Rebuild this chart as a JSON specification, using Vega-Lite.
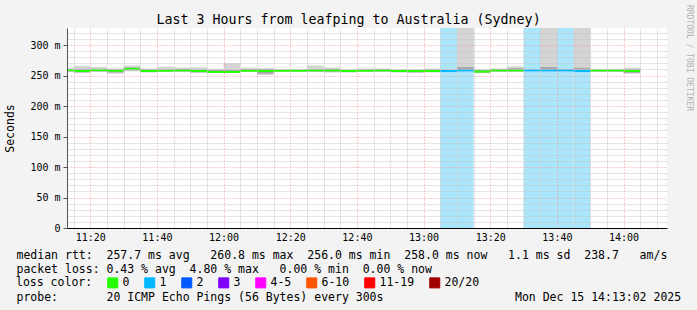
{
  "$schema": "https://vega.github.io/schema/vega-lite/v6.json",
  "autosize": {"type": "none"},
  "width": 600,
  "height": 200,
  "padding": {"left": 67, "top": 28, "right": 30, "bottom": 82},
  "background": "#f3f3f3",
  "view": {"fill": "#ffffff", "stroke": null},
  "title": {
    "text": "Last 3 Hours from leafping to Australia (Sydney)",
    "font": "DejaVu Sans Mono", "fontSize": 13.3, "fontWeight": "normal", "color": "#000000",
    "anchor": "middle", "frame": "group", "dx": -18.5, "baseline": "alphabetic", "offset": -32.5
  },
  "data": {
    "values": [
      {"t": "2025-12-15T11:10:00Z", "t2": "2025-12-15T11:15:00Z", "lo": 256, "lo2": 257, "med": 259, "hi2": 261, "hi": 262, "loss": "0"},
      {"t": "2025-12-15T11:15:00Z", "t2": "2025-12-15T11:20:00Z", "lo": 254, "lo2": 255.5, "med": 257.5, "hi2": 261, "hi": 266, "loss": "0"},
      {"t": "2025-12-15T11:20:00Z", "t2": "2025-12-15T11:25:00Z", "lo": 256, "lo2": 257, "med": 259, "hi2": 261, "hi": 264, "loss": "0"},
      {"t": "2025-12-15T11:25:00Z", "t2": "2025-12-15T11:30:00Z", "lo": 253, "lo2": 255, "med": 258, "hi2": 260, "hi": 261.5, "loss": "0"},
      {"t": "2025-12-15T11:30:00Z", "t2": "2025-12-15T11:35:00Z", "lo": 257, "lo2": 258.5, "med": 261, "hi2": 263, "hi": 266.5, "loss": "0"},
      {"t": "2025-12-15T11:35:00Z", "t2": "2025-12-15T11:40:00Z", "lo": 255, "lo2": 256, "med": 257.5, "hi2": 260.5, "hi": 261.5, "loss": "0"},
      {"t": "2025-12-15T11:40:00Z", "t2": "2025-12-15T11:45:00Z", "lo": 256, "lo2": 257, "med": 258, "hi2": 260, "hi": 264.5, "loss": "0"},
      {"t": "2025-12-15T11:45:00Z", "t2": "2025-12-15T11:50:00Z", "lo": 256, "lo2": 257, "med": 258.5, "hi2": 261, "hi": 263, "loss": "0"},
      {"t": "2025-12-15T11:50:00Z", "t2": "2025-12-15T11:55:00Z", "lo": 254, "lo2": 255.5, "med": 257.5, "hi2": 260, "hi": 263.5, "loss": "0"},
      {"t": "2025-12-15T11:55:00Z", "t2": "2025-12-15T12:00:00Z", "lo": 254, "lo2": 255, "med": 256, "hi2": 259, "hi": 261, "loss": "0"},
      {"t": "2025-12-15T12:00:00Z", "t2": "2025-12-15T12:05:00Z", "lo": 254, "lo2": 255, "med": 256, "hi2": 259, "hi": 270, "loss": "0"},
      {"t": "2025-12-15T12:05:00Z", "t2": "2025-12-15T12:10:00Z", "lo": 256, "lo2": 257, "med": 258, "hi2": 260.5, "hi": 262.5, "loss": "0"},
      {"t": "2025-12-15T12:10:00Z", "t2": "2025-12-15T12:15:00Z", "lo": 251, "lo2": 253, "med": 257.5, "hi2": 261, "hi": 262, "loss": "0"},
      {"t": "2025-12-15T12:15:00Z", "t2": "2025-12-15T12:20:00Z", "lo": 256, "lo2": 257, "med": 258, "hi2": 259.5, "hi": 260, "loss": "0"},
      {"t": "2025-12-15T12:20:00Z", "t2": "2025-12-15T12:25:00Z", "lo": 256, "lo2": 257, "med": 258, "hi2": 259.5, "hi": 260, "loss": "0"},
      {"t": "2025-12-15T12:25:00Z", "t2": "2025-12-15T12:30:00Z", "lo": 256, "lo2": 257, "med": 258.5, "hi2": 260.5, "hi": 266.5, "loss": "0"},
      {"t": "2025-12-15T12:30:00Z", "t2": "2025-12-15T12:35:00Z", "lo": 255, "lo2": 256.5, "med": 258.5, "hi2": 261, "hi": 263, "loss": "0"},
      {"t": "2025-12-15T12:35:00Z", "t2": "2025-12-15T12:40:00Z", "lo": 255, "lo2": 256, "med": 257.5, "hi2": 259.5, "hi": 260, "loss": "0"},
      {"t": "2025-12-15T12:40:00Z", "t2": "2025-12-15T12:45:00Z", "lo": 256, "lo2": 257, "med": 258, "hi2": 260, "hi": 261.5, "loss": "0"},
      {"t": "2025-12-15T12:45:00Z", "t2": "2025-12-15T12:50:00Z", "lo": 256, "lo2": 257, "med": 258.5, "hi2": 260.5, "hi": 261.5, "loss": "0"},
      {"t": "2025-12-15T12:50:00Z", "t2": "2025-12-15T12:55:00Z", "lo": 255, "lo2": 256, "med": 257.5, "hi2": 259.5, "hi": 260, "loss": "0"},
      {"t": "2025-12-15T12:55:00Z", "t2": "2025-12-15T13:00:00Z", "lo": 254, "lo2": 255.5, "med": 257.5, "hi2": 259.5, "hi": 260, "loss": "0"},
      {"t": "2025-12-15T13:00:00Z", "t2": "2025-12-15T13:05:00Z", "lo": 255, "lo2": 256, "med": 257.5, "hi2": 260, "hi": 261.5, "loss": "0"},
      {"t": "2025-12-15T13:05:00Z", "t2": "2025-12-15T13:10:00Z", "lo": 256, "lo2": 257, "med": 257.5, "hi2": 259.5, "hi": 261, "loss": "1"},
      {"t": "2025-12-15T13:10:00Z", "t2": "2025-12-15T13:15:00Z", "lo": 257, "lo2": 258, "med": 258.5, "hi2": 264, "hi": 340, "loss": "1"},
      {"t": "2025-12-15T13:15:00Z", "t2": "2025-12-15T13:20:00Z", "lo": 254, "lo2": 255, "med": 256.5, "hi2": 259, "hi": 260, "loss": "0"},
      {"t": "2025-12-15T13:20:00Z", "t2": "2025-12-15T13:25:00Z", "lo": 256, "lo2": 257, "med": 258.5, "hi2": 260.5, "hi": 261.5, "loss": "0"},
      {"t": "2025-12-15T13:25:00Z", "t2": "2025-12-15T13:30:00Z", "lo": 256, "lo2": 257, "med": 258.5, "hi2": 262, "hi": 265, "loss": "0"},
      {"t": "2025-12-15T13:30:00Z", "t2": "2025-12-15T13:35:00Z", "lo": 257, "lo2": 257.5, "med": 258.5, "hi2": 260, "hi": 261, "loss": "1"},
      {"t": "2025-12-15T13:35:00Z", "t2": "2025-12-15T13:40:00Z", "lo": 257, "lo2": 258, "med": 258.5, "hi2": 264, "hi": 340, "loss": "1"},
      {"t": "2025-12-15T13:40:00Z", "t2": "2025-12-15T13:45:00Z", "lo": 257, "lo2": 258, "med": 258.5, "hi2": 260.5, "hi": 261.5, "loss": "1"},
      {"t": "2025-12-15T13:45:00Z", "t2": "2025-12-15T13:50:00Z", "lo": 256, "lo2": 257, "med": 257.5, "hi2": 263, "hi": 340, "loss": "1"},
      {"t": "2025-12-15T13:50:00Z", "t2": "2025-12-15T13:55:00Z", "lo": 256, "lo2": 257, "med": 258.5, "hi2": 259.5, "hi": 260, "loss": "0"},
      {"t": "2025-12-15T13:55:00Z", "t2": "2025-12-15T14:00:00Z", "lo": 256, "lo2": 257, "med": 258.5, "hi2": 259.5, "hi": 260, "loss": "0"},
      {"t": "2025-12-15T14:00:00Z", "t2": "2025-12-15T14:05:00Z", "lo": 253, "lo2": 254.5, "med": 257.5, "hi2": 260.5, "hi": 263, "loss": "0"}
    ]
  },
  "layer": [
    {
      "transform": [{"filter": "datum.loss == '1'"}],
      "mark": {"type": "rect", "color": "#a9e5fb"},
      "encoding": {
        "x": {"field": "t", "type": "temporal", "axis": null,
              "scale": {"type": "utc", "domain": [1765797182000, 1765807982000], "nice": false}},
        "x2": {"field": "t2"}
      }
    },
    {
      "mark": {"type": "rect", "color": "#d4d4d4", "clip": true},
      "encoding": {
        "x": {"field": "t", "type": "temporal",
              "scale": {"type": "utc", "domain": [1765797182000, 1765807982000], "nice": false},
              "axis": {
                "orient": "bottom", "zindex": 1, "format": "%H:%M",
                "values": [1765797600000, 1765798800000, 1765800000000, 1765801200000, 1765802400000, 1765803600000, 1765804800000, 1765806000000, 1765807200000],
                "grid": true, "gridColor": "#f29c9c", "gridDash": [1, 2], "gridWidth": 1,
                "ticks": false, "labelPadding": 4, "labelFont": "DejaVu Sans Mono", "labelFontSize": 10, "labelColor": "#000000",
                "labelOverlap": false, "labelFlush": false,
                "domain": true, "domainColor": "#000000", "domainWidth": 1,
                "title": [
                  "median rtt:\u00a0\u00a0257.7 ms avg\u00a0\u00a0\u00a0260.8 ms max\u00a0\u00a0256.0 ms min\u00a0\u00a0258.0 ms now\u00a0\u00a0\u00a01.1 ms sd\u00a0\u00a0238.7\u00a0\u00a0\u00a0am/s",
                  "packet loss: 0.43 % avg\u00a0\u00a04.80 % max\u00a0\u00a0\u00a00.00 % min\u00a0\u00a00.00 % now"
                ],
                "titleFont": "DejaVu Sans Mono", "titleFontSize": 11.5, "titleFontWeight": "normal", "titleColor": "#000000",
                "titleAlign": "left", "titleBaseline": "top", "titleX": -51, "titleY": 21.5, "titleLineHeight": 13.8, "titleLimit": 2000
              }},
        "x2": {"field": "t2"},
        "y": {"field": "lo", "type": "quantitative",
              "scale": {"domain": [0, 328], "nice": false, "zero": true},
              "axis": {
                "orient": "left", "zindex": 1,
                "values": [0, 50, 100, 150, 200, 250, 300],
                "labelExpr": "datum.value == 0 ? '0' : datum.value + ' m'",
                "grid": true, "gridColor": "#f29c9c", "gridDash": [1, 2], "gridWidth": 1,
                "ticks": true, "tickSize": 4, "tickColor": "#555555",
                "domain": true, "domainColor": "#555555",
                "labelPadding": 3, "labelFont": "DejaVu Sans Mono", "labelFontSize": 10, "labelColor": "#000000",
                "title": "Seconds", "titleFont": "DejaVu Sans Mono", "titleFontSize": 11.5, "titleFontWeight": "normal", "titleColor": "#000000",
                "titleAngle": -90, "titleX": -56.5, "titleY": 100, "titleAlign": "center", "titleBaseline": "middle"
              }},
        "y2": {"field": "hi"}
      }
    },
    {
      "mark": {"type": "rect", "color": "#a8a8a8", "clip": true},
      "encoding": {
        "x": {"field": "t", "type": "temporal",
              "scale": {"type": "utc", "domain": [1765797182000, 1765807982000], "nice": false},
              "axis": {
                "orient": "top", "zindex": 1,
                "values": [1765797300000, 1765797900000, 1765798200000, 1765798500000, 1765799100000, 1765799400000, 1765799700000, 1765800300000, 1765800600000, 1765800900000, 1765801500000, 1765801800000, 1765802100000, 1765802700000, 1765803000000, 1765803300000, 1765803900000, 1765804200000, 1765804500000, 1765805100000, 1765805400000, 1765805700000, 1765806300000, 1765806600000, 1765806900000, 1765807500000, 1765807800000],
                "grid": true, "gridColor": "#c8c8c8", "gridDash": [1, 1], "gridWidth": 1,
                "labels": false, "ticks": false, "domain": false,
                "title": "probe:\u00a0\u00a0\u00a0\u00a0\u00a0\u00a0\u00a020 ICMP Echo Pings (56 Bytes) every 300s\u00a0\u00a0\u00a0\u00a0\u00a0\u00a0\u00a0\u00a0\u00a0\u00a0\u00a0\u00a0\u00a0\u00a0\u00a0\u00a0\u00a0\u00a0\u00a0Mon Dec 15 14:13:02 2025",
                "titleFont": "DejaVu Sans Mono", "titleFontSize": 11.5, "titleFontWeight": "normal", "titleColor": "#000000",
                "titleAlign": "left", "titleBaseline": "top", "titleX": -51, "titleY": 263.1, "titleLimit": 2000
              }},
        "x2": {"field": "t2"},
        "y": {"field": "lo2", "type": "quantitative",
              "scale": {"domain": [0, 328], "nice": false, "zero": true},
              "axis": {
                "orient": "right", "zindex": 1,
                "values": [10, 20, 30, 40, 60, 70, 80, 90, 110, 120, 130, 140, 160, 170, 180, 190, 210, 220, 230, 240, 260, 270, 280, 290, 310, 320],
                "grid": true, "gridColor": "#c8c8c8", "gridDash": [1, 1], "gridWidth": 1,
                "labels": false, "ticks": false, "domain": false,
                "title": "RRDTOOL / TOBI OETIKER", "titleFont": "DejaVu Sans Mono", "titleFontSize": 8, "titleFontWeight": "normal", "titleColor": "#b0b0b0",
                "titleAngle": 90, "titleX": 21.5, "titleY": 29.5, "titleAlign": "center", "titleBaseline": "middle"
              }},
        "y2": {"field": "hi2"}
      }
    },
    {
      "mark": {"type": "rule", "strokeWidth": 2, "clip": true},
      "encoding": {
        "x": {"field": "t", "type": "temporal", "axis": null,
              "scale": {"type": "utc", "domain": [1765797182000, 1765807982000], "nice": false}},
        "x2": {"field": "t2"},
        "y": {"field": "med", "type": "quantitative", "axis": null},
        "color": {
          "field": "loss", "type": "nominal",
          "scale": {
            "domain": ["0", "1", "2", "3", "4-5", "6-10", "11-19", "20/20"],
            "range": ["#26ff00", "#00b8ff", "#0059ff", "#7e00ff", "#ff00fe", "#ff5500", "#ff0000", "#a10000"]
          },
          "legend": {
            "title": "loss color:", "orient": "none", "legendX": -51, "legendY": 249,
            "direction": "horizontal", "titleOrient": "left", "titlePadding": 14,
            "titleFont": "DejaVu Sans Mono", "titleFontSize": 11.5, "titleFontWeight": "normal", "titleColor": "#000000",
            "titleBaseline": "middle",
            "labelFont": "DejaVu Sans Mono", "labelFontSize": 11.5, "labelColor": "#000000", "labelOffset": 4,
            "symbolType": "square", "symbolSize": 100, "symbolStrokeColor": "#000000", "symbolStrokeWidth": 1,
            "columnPadding": 12, "padding": 0,
            "encode": {"symbols": {"update": {"fill": {"scale": "color", "field": "value"}, "stroke": {"value": "#000000"}, "strokeWidth": {"value": 1}, "opacity": {"value": 1}}}}
          }
        }
      }
    }
  ],
  "resolve": {"axis": {"x": "independent", "y": "independent"}}
}
